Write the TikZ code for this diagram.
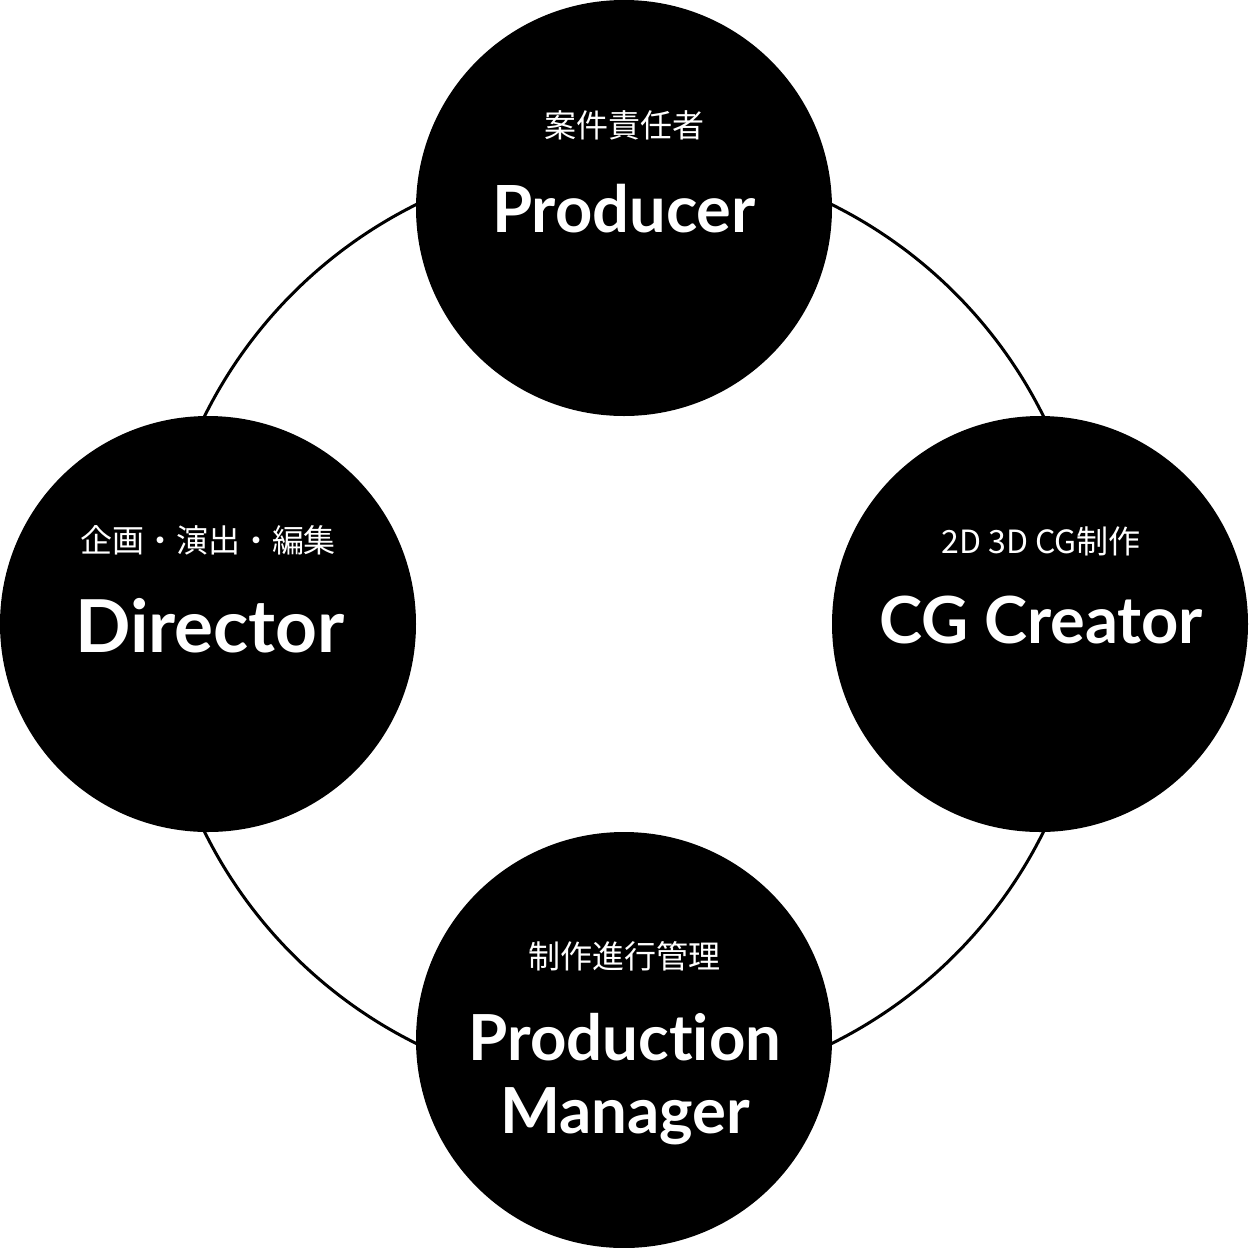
\documentclass[tikz,border=0pt]{standalone}
\usepackage{fontspec}
\newfontfamily\lato[Ligatures=NoCommon]{Lato}
\newfontfamily\cjk{Noto Sans CJK JP}
\begin{document}
\begin{tikzpicture}[x=1pt,y=-1pt,
  role/.style={circle,fill=black,draw=none,minimum size=416pt,inner sep=0pt},
  jp/.style={text=white,anchor=center,inner sep=0pt,font=\cjk\fontsize{32}{36}\selectfont},
  en/.style={text=white,anchor=base,inner sep=0pt,align=center,font=\lato\bfseries\fontsize{#1}{73}\selectfont}]
\useasboundingbox (0,0) rectangle (1248,1248);
\coordinate (mid) at (624,624);
\draw[line width=3pt] (mid) circle[radius=468pt];
\node[role] (prod) at (624,208) {};
\node[role] (dir) at (208,624) {};
\node[role] (cg) at (1040,624) {};
\node[role] (pm) at (624,1040) {};
\node[jp] (prodjp) at (624,125) {案件責任者};
\node[en=65] (prodEn) at (624,232) {Producer};
\node[en=73] (dirEn) at (210,652) {Director};
\node[jp] (dirjp) at (208,540) {企画・演出・編集};
\node[jp] (cgjp) at (1041,541) {2D 3D CG制作};
\node[en=65] (cgEn) at (1041,643) {CG Creator};
\node[jp] (pmjp) at (624,956) {制作進行管理};
\node[en=63.5] (pmEn) at (625,1060) {Production};
\node[en=63.5] (pmEn2) at (625,1133) {Manager};
\end{tikzpicture}
\end{document}
